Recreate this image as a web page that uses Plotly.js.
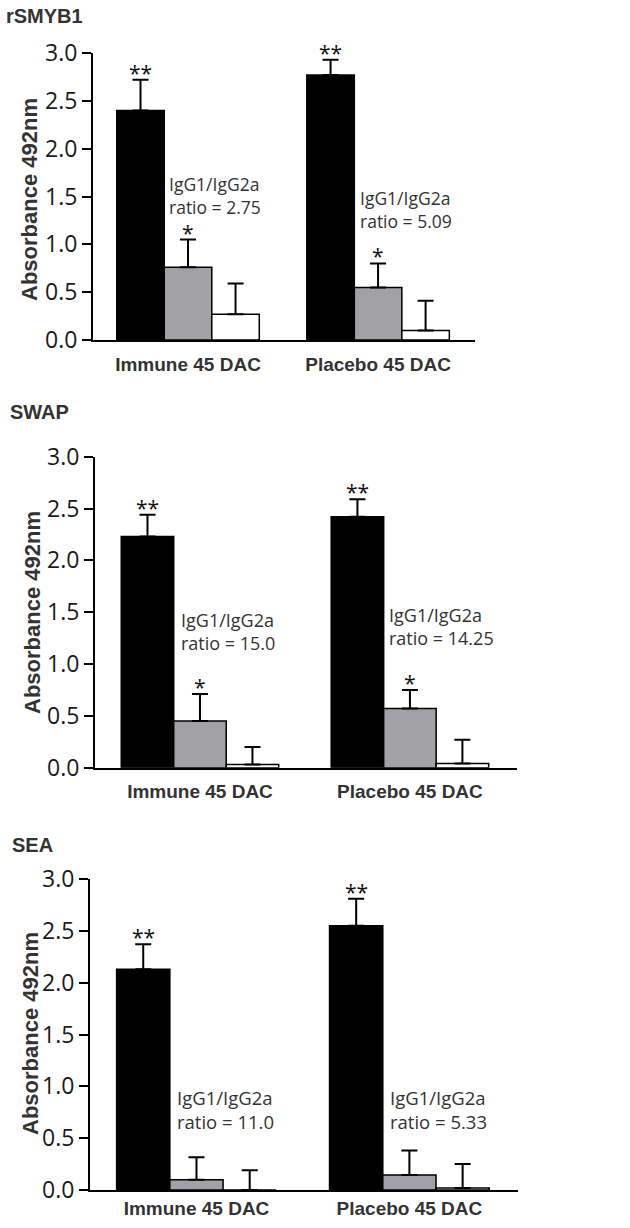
<!DOCTYPE html>
<html>
<head>
<meta charset="utf-8">
<script src="https://cdn.plot.ly/plotly-3.0.1.min.js"></script>
<style>html,body{margin:0;padding:0;background:#fff;}#chart{width:630px;height:1228px;}</style>
</head>
<body>
<div id="chart"></div>
<script>
// ---- data ----
const categories = ['Immune 45 DAC', 'Placebo 45 DAC'];
const panelTitles = ['rSMYB1', 'SWAP', 'SEA'];
const isotypes = ['IgG', 'IgG1', 'IgG2a'];
const yTitle = 'Absorbance 492nm';

const rSMYB1_IgG = [2.40, 2.77];
const rSMYB1_IgG1 = [0.76, 0.55];
const rSMYB1_IgG2a = [0.27, 0.10];
const rSMYB1_IgG_sem = [0.32, 0.16];
const rSMYB1_IgG1_sem = [0.29, 0.25];
const rSMYB1_IgG2a_sem = [0.32, 0.31];
const rSMYB1_IgG_sig = ['**', '**'];
const rSMYB1_IgG1_sig = ['*', '*'];
const rSMYB1_ratio = ['2.75', '5.09'];

const SWAP_IgG = [2.23, 2.42];
const SWAP_IgG1 = [0.45, 0.57];
const SWAP_IgG2a = [0.03, 0.04];
const SWAP_IgG_sem = [0.21, 0.17];
const SWAP_IgG1_sem = [0.26, 0.18];
const SWAP_IgG2a_sem = [0.17, 0.23];
const SWAP_IgG_sig = ['**', '**'];
const SWAP_IgG1_sig = ['*', '*'];
const SWAP_ratio = ['15.0', '14.25'];

const SEA_IgG = [2.13, 2.55];
const SEA_IgG1 = [0.10, 0.145];
const SEA_IgG2a = [0.0, 0.02];
const SEA_IgG_sem = [0.24, 0.26];
const SEA_IgG1_sem = [0.215, 0.235];
const SEA_IgG2a_sem = [0.19, 0.23];
const SEA_IgG_sig = ['**', '**'];
const SEA_IgG1_sig = ['', ''];
const SEA_ratio = ['11.0', '5.33'];

const yTicks = [0, 0.5, 1.0, 1.5, 2.0, 2.5, 3.0];

// ---- build ----
const panels = [
  {vals: [rSMYB1_IgG, rSMYB1_IgG1, rSMYB1_IgG2a], sem: [rSMYB1_IgG_sem, rSMYB1_IgG1_sem, rSMYB1_IgG2a_sem], sig: [rSMYB1_IgG_sig, rSMYB1_IgG1_sig], ratio: rSMYB1_ratio},
  {vals: [SWAP_IgG, SWAP_IgG1, SWAP_IgG2a], sem: [SWAP_IgG_sem, SWAP_IgG1_sem, SWAP_IgG2a_sem], sig: [SWAP_IgG_sig, SWAP_IgG1_sig], ratio: SWAP_ratio},
  {vals: [SEA_IgG, SEA_IgG1, SEA_IgG2a], sem: [SEA_IgG_sem, SEA_IgG1_sem, SEA_IgG2a_sem], sig: [SEA_IgG_sig, SEA_IgG1_sig], ratio: SEA_ratio}
];

const W = 630, H = 1228;
// pixel geometry of each panel: [xLeft, xRight, yTop(3.0), yBottom(0)]
const geom = [
  [93, 475, 53, 340],
  [95, 517, 456.7, 767.7],
  [90, 518, 879, 1190]
];
const titlePos = [[4, 16], [8, 412], [10, 845]];
const yTitlePos = [[30, 200], [32, 613], [30, 1034]];
const labelStandoff = [6, 5, 0];
const annoFont = [17.5, 18, 18.5];
const ratioPos = [
  [[-0.11, 1.515], [0.895, 1.36]],
  [[-0.10, 1.31], [0.89, 1.36]],
  [[-0.10, 0.78], [0.90, 0.78]]
];
const fills = ['#000000', '#a2a2a6', '#ffffff'];

const traces = [];
const layout = {
  width: W, height: H,
  margin: {l: 0, r: 0, t: 0, b: 0},
  paper_bgcolor: '#fff', plot_bgcolor: '#fff',
  showlegend: false,
  barmode: 'group', bargap: 0.25, bargroupgap: 0,
  annotations: []
};

panels.forEach((p, k) => {
  const xa = k === 0 ? 'x' : 'x' + (k + 1);
  const ya = k === 0 ? 'y' : 'y' + (k + 1);
  const g = geom[k];
  p.vals.forEach((v, t) => {
    traces.push({
      type: 'bar', name: isotypes[t], x: categories, y: v,
      xaxis: xa, yaxis: ya,
      marker: {color: fills[t], line: {color: '#000', width: 1.5}},
      error_y: {type: 'data', symmetric: false, array: p.sem[t], arrayminus: v.map(() => 0), color: '#000', thickness: 2, width: 8},
      cliponaxis: false,
      hoverinfo: 'skip'
    });
  });
  layout['xaxis' + (k === 0 ? '' : k + 1)] = {
    domain: [g[0] / W, g[1] / W], anchor: ya,
    type: 'category', range: [-0.5, 1.51],
    showline: true, linecolor: '#000', linewidth: 2,
    ticks: '', showgrid: false, zeroline: false,
    tickfont: {family: 'Liberation Sans, Arial, sans-serif', size: 19, weight: 'bold', color: '#333'},
    ticklabelstandoff: labelStandoff[k],
    fixedrange: true
  };
  layout['yaxis' + (k === 0 ? '' : k + 1)] = {
    domain: [1 - g[3] / H, 1 - g[2] / H], anchor: xa,
    range: [0, 3], tickvals: yTicks, tickformat: '.1f',
    showline: true, linecolor: '#000', linewidth: 2,
    ticks: 'outside', ticklen: 9, tickwidth: 2, tickcolor: '#000',
    showgrid: false, zeroline: false,
    tickfont: {family: 'Open Sans, sans-serif', size: 23, color: '#1a1a1a'},
    fixedrange: true
  };
  // y-axis title
  layout.annotations.push({
    xref: 'paper', yref: 'paper', x: yTitlePos[k][0] / W, y: 1 - yTitlePos[k][1] / H,
    xanchor: 'center', yanchor: 'middle', textangle: -90, showarrow: false, text: yTitle,
    font: {family: 'Liberation Sans, Arial, sans-serif', size: 22, weight: 'bold', color: '#333'}
  });
  // panel title
  layout.annotations.push({
    xref: 'paper', yref: 'paper', x: titlePos[k][0] / W, y: 1 - titlePos[k][1] / H,
    xanchor: 'left', yanchor: 'middle', showarrow: false, text: panelTitles[k],
    font: {family: 'Liberation Sans, Arial, sans-serif', size: 20, weight: 'bold', color: '#333'}
  });
  // significance stars
  p.sig.forEach((s, t) => {
    s.forEach((txt, c) => {
      if (!txt) return;
      layout.annotations.push({
        xref: xa, yref: ya, x: c + (t - 1) * 0.25, y: p.vals[t][c] + p.sem[t][c],
        xanchor: 'center', yanchor: 'bottom', yshift: -9, showarrow: false, text: txt,
        font: {family: 'Open Sans, sans-serif', size: 21, color: '#111'}
      });
    });
  });
  // ratio labels
  p.ratio.forEach((r, c) => {
    layout.annotations.push({
      xref: xa, yref: ya, x: ratioPos[k][c][0], y: ratioPos[k][c][1],
      xanchor: 'left', yanchor: 'middle', align: 'left', showarrow: false,
      text: 'IgG1/IgG2a<br>ratio = ' + r,
      font: {family: 'Open Sans, sans-serif', size: annoFont[k], color: '#333'}
    });
  });
});

Plotly.newPlot('chart', traces, layout, {displayModeBar: false, staticPlot: true});
</script>
</body>
</html>
